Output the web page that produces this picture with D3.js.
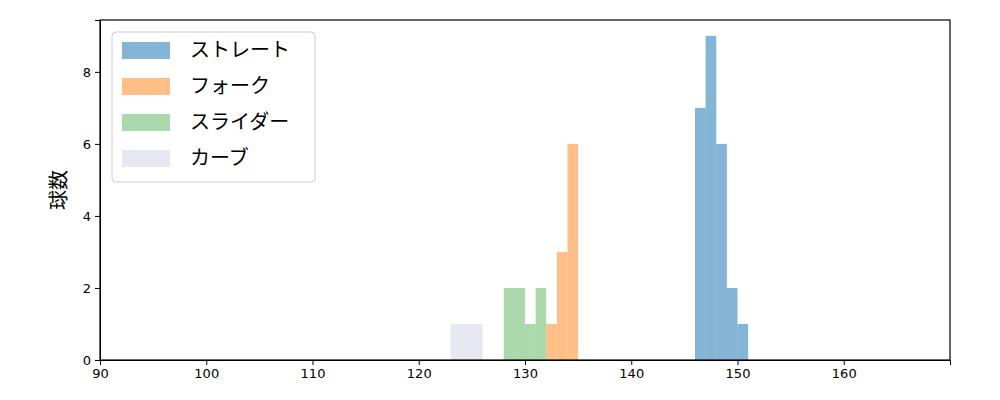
<!DOCTYPE html>
<html><head><meta charset="UTF-8">
<script src="https://d3js.org/d3.v7.min.js"></script>
<style>body{margin:0;background:#fff;font-family:"Noto Sans CJK JP","DejaVu Sans",sans-serif}</style>
</head><body>
<svg id="plot" width="1000" height="400"></svg>
<script>
// bins: [start, end, count]
const straight = [[146,147,7],[147,148,9],[148,149,6],[149,150,2],[150,151,1]];
const fork = [[132,133,1],[133,134,3],[134,135,6]];
const slider = [[128,129,2],[129,130,2],[130,131,1],[131,132,2]];
const curve = [[123,126,1]];
const seriesNames = ["ストレート","フォーク","スライダー","カーブ"];
const seriesColors = ["#1f77b4","#ff7f0e","#2ca02c","#d4d4e8"];
const seriesAlpha = [0.55,0.5,0.4,0.55];
const xTicks = [90,100,110,120,130,140,150,160];
const yTicks = [0,2,4,6,8];

const svg = d3.select("#plot");
const m = {l:100, r:950, t:20, b:360};
const x = d3.scaleLinear().domain([90,170]).range([m.l,m.r]);
const y = d3.scaleLinear().domain([0,9.44]).range([m.b,m.t]);

[straight,fork,slider,curve].forEach((s,i)=>{
  svg.append("g").selectAll("rect").data(s).join("rect")
    .attr("x",d=>x(d[0])).attr("width",d=>x(d[1])-x(d[0]))
    .attr("y",d=>y(d[2])).attr("height",d=>y(0)-y(d[2]))
    .attr("fill",seriesColors[i]).attr("fill-opacity",seriesAlpha[i]);
});

svg.append("g").attr("transform",`translate(0,${m.b})`)
  .call(d3.axisBottom(x).tickValues(xTicks).tickSizeOuter(0).tickSize(5).tickPadding(4))
  .call(g=>g.selectAll("text").attr("font-size",13).attr("fill","#000").attr("font-family","DejaVu Sans"));
svg.append("g").attr("transform",`translate(${m.l},0)`)
  .call(d3.axisLeft(y).tickValues(yTicks).tickSizeOuter(0).tickSize(5).tickPadding(4))
  .call(g=>g.selectAll("text").attr("font-size",13).attr("fill","#000").attr("font-family","DejaVu Sans"));
svg.append("rect").attr("x",m.l).attr("y",m.t).attr("width",m.r-m.l).attr("height",m.b-m.t)
  .attr("fill","none").attr("stroke","#000").attr("stroke-width",1.2);

svg.append("text").attr("transform","translate(66,190) rotate(-90)")
  .attr("text-anchor","middle").attr("font-size",20).text("球数");

const lg = svg.append("g");
lg.append("rect").attr("x",112).attr("y",32).attr("width",203).attr("height",150).attr("rx",4)
  .attr("fill","#fff").attr("fill-opacity",0.8).attr("stroke","#ccc");
seriesNames.forEach((n,i)=>{
  const yy = 42 + i*36;
  lg.append("rect").attr("x",122).attr("y",yy).attr("width",48).attr("height",17)
    .attr("fill",seriesColors[i]).attr("fill-opacity",seriesAlpha[i]);
  lg.append("text").attr("x",190).attr("y",yy+15).attr("font-size",20).text(n);
});
</script>
</body></html>
